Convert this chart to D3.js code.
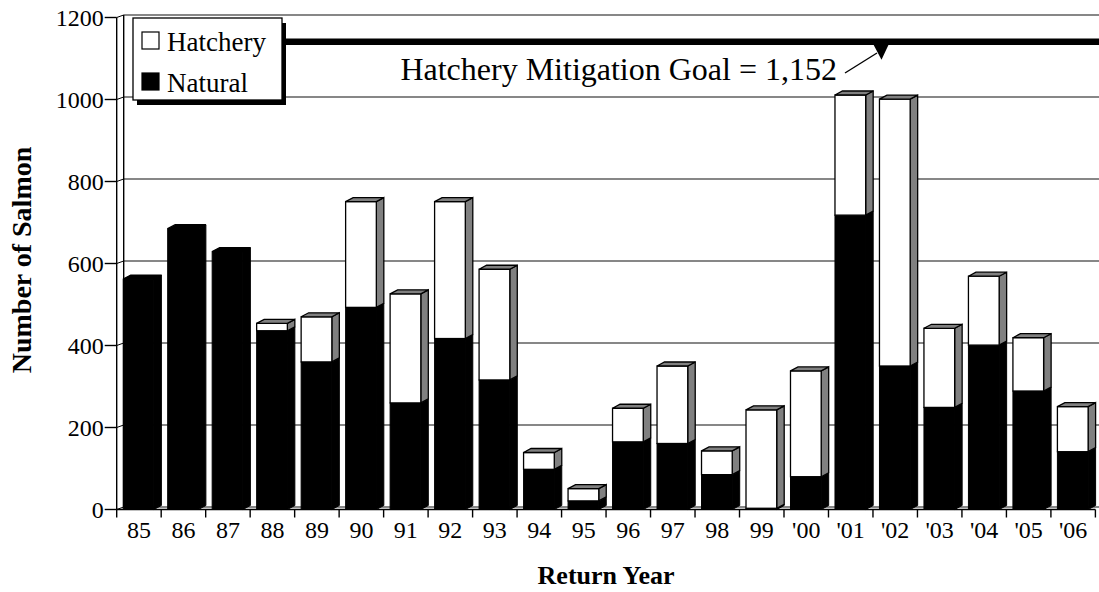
<!DOCTYPE html>
<html>
<head>
<meta charset="utf-8">
<script src="https://cdn.jsdelivr.net/npm/d3@7"></script>
<style>
  body { margin: 0; background: #fff; }
  svg { display: block; }
</style>
</head>
<body>
<div id="chart"></div>
<script>
/* Data */
var years = ["85", "86", "87", "88", "89", "90", "91", "92", "93", "94", "95",
             "96", "97", "98", "99", "'00", "'01", "'02", "'03", "'04", "'05", "'06"];
var natural  = [562, 685, 629, 436, 360, 493, 260, 417, 316, 98, 21,
                165, 161, 85, 3, 80, 718, 350, 249, 401, 289, 141];
var hatchery = [0, 0, 0, 18, 110, 258, 266, 334, 270, 41, 30,
                82, 189, 58, 240, 258, 293, 651, 193, 168, 130, 110];
var yTicks = [0, 200, 400, 600, 800, 1000, 1200];
var goal = 1152;

var width = 1099, height = 592,
    fontFamily = "'Liberation Serif', 'Times New Roman', serif";

/* depth of the 3D wall / bars */
var wallDx = 7, wallDy = -2.5,
    barDx = 7.5, barDy = -4;

var svg = d3.select("#chart")
    .append("svg")
    .attr("width", width)
    .attr("height", height);

var x = d3.scaleBand()
    .domain(years)
    .range([116.7, 1095.4])
    .paddingInner(0)
    .paddingOuter(0);

var y = d3.scaleLinear()
    .domain([0, 1200])
    .range([509.5, 17.5]);

var x0 = x.range()[0], x1 = x.range()[1];

/* Gridlines on the back wall */
svg.append("g")
    .selectAll("line")
    .data(yTicks)
    .enter().append("line")
    .attr("x1", x0 + wallDx)
    .attr("x2", width)
    .attr("y1", function(d) { return y(d) + wallDy; })
    .attr("y2", function(d) { return y(d) + wallDy; })
    .attr("stroke", "#111")
    .attr("stroke-width", 1.2);

/* Left wall: front axis and back edge */
svg.append("line")
    .attr("x1", x0).attr("x2", x0)
    .attr("y1", y(1200)).attr("y2", y(0))
    .attr("stroke", "#000").attr("stroke-width", 1.4);
svg.append("line")
    .attr("x1", x0 + wallDx).attr("x2", x0 + wallDx)
    .attr("y1", y(1200) + wallDy).attr("y2", y(0) + wallDy)
    .attr("stroke", "#000").attr("stroke-width", 1.4);

/* Y ticks + little slants to the wall */
var yt = svg.append("g").selectAll("g")
    .data(yTicks)
    .enter().append("g");

yt.append("line")
    .attr("x1", x0 - 12).attr("x2", x0)
    .attr("y1", function(d) { return y(d); })
    .attr("y2", function(d) { return y(d); })
    .attr("stroke", "#000").attr("stroke-width", 1.4);

yt.append("line")
    .attr("x1", x0).attr("x2", x0 + wallDx)
    .attr("y1", function(d) { return y(d); })
    .attr("y2", function(d) { return y(d) + wallDy; })
    .attr("stroke", "#000").attr("stroke-width", 1);

yt.append("text")
    .attr("x", x0 - 13)
    .attr("y", function(d) { return y(d) + 8; })
    .attr("text-anchor", "end")
    .attr("font-family", fontFamily)
    .attr("font-size", 24)
    .text(function(d) { return d; });

/* Floor: front axis line and ticks */
svg.append("line")
    .attr("x1", x0).attr("x2", x1)
    .attr("y1", y(0)).attr("y2", y(0))
    .attr("stroke", "#000").attr("stroke-width", 1.4);

svg.append("g").selectAll("line")
    .data(years.map(function(d) { return x(d); }).concat([x1]))
    .enter().append("line")
    .attr("x1", function(d) { return d; })
    .attr("x2", function(d) { return d; })
    .attr("y1", y(0))
    .attr("y2", y(0) + 8)
    .attr("stroke", "#000").attr("stroke-width", 1.4);

/* Bars */
var bw = x.bandwidth(),
    off = bw * 0.146,
    fw = bw * 0.69;

function face(pts) {
    return "M" + pts.map(function(p) { return p[0] + "," + p[1]; }).join("L") + "Z";
}

var bars = svg.append("g")
    .selectAll("g")
    .data(years.map(function(d, i) { return { year: d, nat: natural[i], hat: hatchery[i] }; }))
    .enter().append("g");

bars.each(function(d) {
    var g = d3.select(this),
        left = x(d.year) + off,
        right = left + fw,
        yb = y(0),
        yn = y(d.nat),
        yt = y(d.nat + d.hat);

    /* natural segment: all black */
    if (d.nat > 0) {
        g.append("path")
            .attr("d", face([[right, yb], [right + barDx, yb + barDy], [right + barDx, yn + barDy], [right, yn]]))
            .attr("fill", "#000").attr("stroke", "#000").attr("stroke-width", 1);
        g.append("rect")
            .attr("x", left).attr("y", yn)
            .attr("width", fw).attr("height", yb - yn)
            .attr("fill", "#000").attr("stroke", "#000").attr("stroke-width", 1);
    }
    /* hatchery segment: white front, grey side */
    if (d.hat > 0) {
        g.append("path")
            .attr("d", face([[right, yn], [right + barDx, yn + barDy], [right + barDx, yt + barDy], [right, yt]]))
            .attr("fill", "#808080").attr("stroke", "#000").attr("stroke-width", 1.3);
        g.append("rect")
            .attr("x", left).attr("y", yt)
            .attr("width", fw).attr("height", yn - yt)
            .attr("fill", "#fff").attr("stroke", "#000").attr("stroke-width", 1.3);
    }
    /* top face */
    g.append("path")
        .attr("d", face([[left, yt], [left + barDx, yt + barDy], [right + barDx, yt + barDy], [right, yt]]))
        .attr("fill", d.hat > 0 ? "#808080" : "#000")
        .attr("stroke", "#000").attr("stroke-width", 1.3);
});

/* X labels */
svg.append("g").selectAll("text")
    .data(years)
    .enter().append("text")
    .attr("x", function(d) { return x(d) + bw / 2; })
    .attr("y", 538)
    .attr("text-anchor", "middle")
    .attr("font-family", fontFamily)
    .attr("font-size", 24)
    .text(function(d) { return d; });

/* Axis titles */
svg.append("text")
    .attr("x", (x0 + x1) / 2)
    .attr("y", 584)
    .attr("text-anchor", "middle")
    .attr("font-family", fontFamily)
    .attr("font-weight", "bold")
    .attr("font-size", 26)
    .text("Return Year");

svg.append("text")
    .attr("transform", "translate(31," + 260 + ") rotate(-90)")
    .attr("text-anchor", "middle")
    .attr("font-family", fontFamily)
    .attr("font-weight", "bold")
    .attr("font-size", 28)
    .text("Number of Salmon");

/* Legend with drop shadow */
var legend = svg.append("g").attr("transform", "translate(133,18)");
legend.append("rect")
    .attr("x", 4).attr("y", 5)
    .attr("width", 149).attr("height", 82)
    .attr("fill", "#000");
legend.append("rect")
    .attr("x", 0).attr("y", 0)
    .attr("width", 149).attr("height", 82)
    .attr("fill", "#fff").attr("stroke", "#000").attr("stroke-width", 1.3);

var legendItems = [{ name: "Hatchery", fill: "#fff" }, { name: "Natural", fill: "#000" }];
var li = legend.selectAll("g.item")
    .data(legendItems)
    .enter().append("g")
    .attr("class", "item")
    .attr("transform", function(d, i) { return "translate(9," + (14 + i * 41) + ")"; });
li.append("rect")
    .attr("width", 17).attr("height", 17)
    .attr("fill", function(d) { return d.fill; })
    .attr("stroke", "#000").attr("stroke-width", 1.2);
li.append("text")
    .attr("x", 25).attr("y", 19)
    .attr("font-family", fontFamily)
    .attr("font-size", 27)
    .text(function(d) { return d.name; });

/* Hatchery mitigation goal line (drawn a bit below the scale value, as on the original) */
var gy = y(goal) + 4.5;
svg.append("line")
    .attr("x1", 286).attr("x2", width)
    .attr("y1", gy).attr("y2", gy)
    .attr("stroke", "#000").attr("stroke-width", 6.5);

svg.append("path")
    .attr("d", face([[873, gy + 2], [889, gy + 2], [881.5, gy + 18]]))
    .attr("fill", "#000");

svg.append("line")
    .attr("x1", 845).attr("y1", 73)
    .attr("x2", 877).attr("y2", 53)
    .attr("stroke", "#000").attr("stroke-width", 1.4);

svg.append("text")
    .attr("x", 837)
    .attr("y", 80)
    .attr("text-anchor", "end")
    .attr("font-family", fontFamily)
    .attr("font-size", 32)
    .text("Hatchery Mitigation Goal = 1,152");
</script>
</body>
</html>
